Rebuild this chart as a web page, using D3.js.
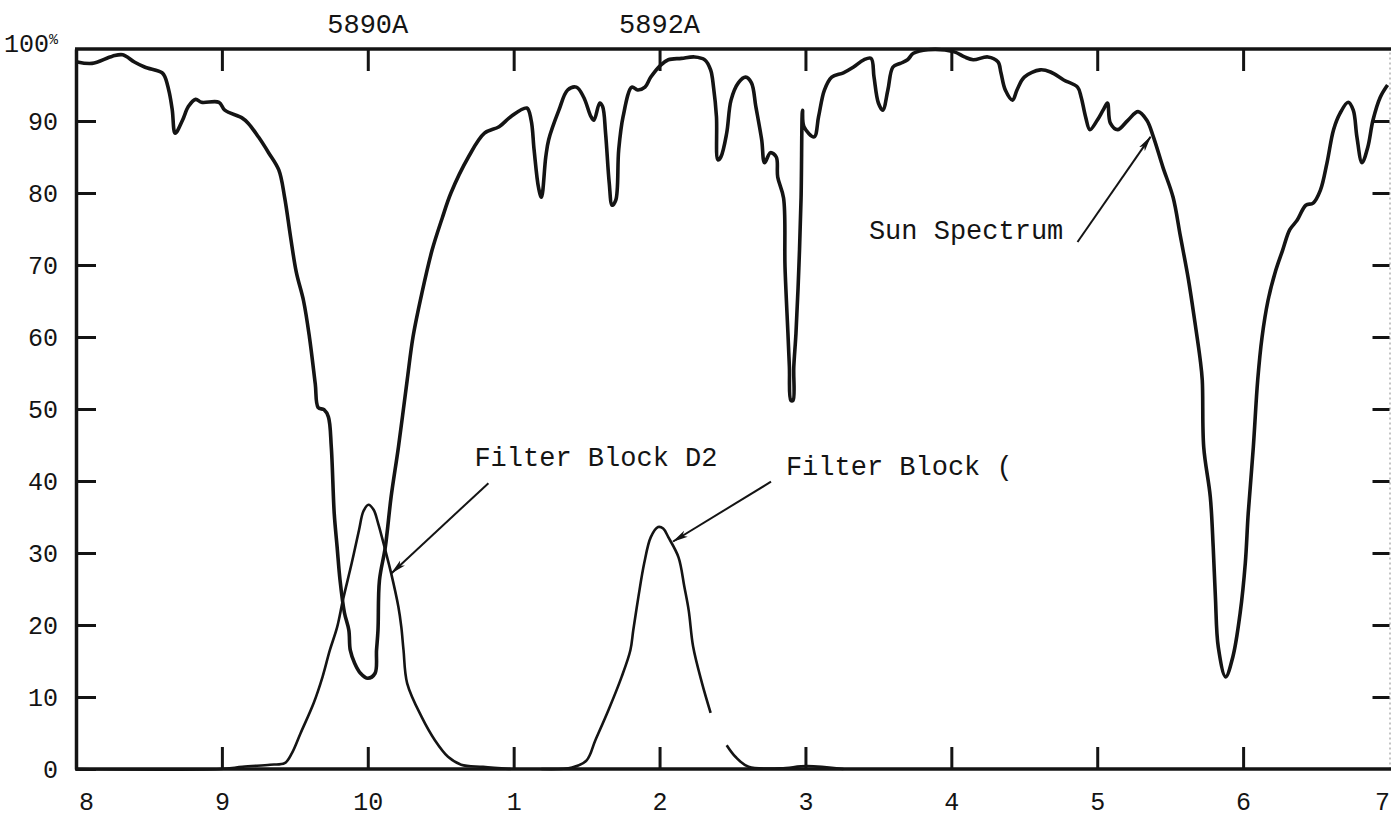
<!DOCTYPE html>
<html><head><meta charset="utf-8">
<script src="https://cdn.jsdelivr.net/npm/d3@7"></script>
<style>
html,body{margin:0;padding:0;background:#fff;}
svg{display:block;}
text{font-family:"Liberation Mono","Courier New",monospace;fill:#141414;}
</style></head><body>
<svg id="chart" width="1391" height="819"></svg>
<script>
// ---- tick values and labels ----
const xTickValues = [5888,5889,5890,5891,5892,5893,5894,5895,5896,5897];
const xTickLabels = ["8","9","10","1","2","3","4","5","6","7"];
const yTickValues = [0,10,20,30,40,50,60,70,80,90];
const yTickLabels = ["0","10","20","30","40","50","60","70","80","90"];
const topLabelWl = [5890, 5892];
const topLabels = ["5890A","5892A"];

// ---- Sun spectrum (wavelength in A, transmission %) ----
const sunWl = [5888.01,5888.11,5888.25,5888.32,5888.40,5888.47,5888.59,5888.61,5888.64,5888.66,5888.68,5888.73,5888.77,5888.82,5888.86,5888.98,
5889.02,5889.14,5889.18,5889.25,5889.32,5889.39,5889.43,5889.47,5889.51,5889.56,5889.60,5889.64,5889.66,5889.70,5889.73,5889.75,5889.77,5889.79,5889.81,5889.84,5889.87,5889.88,5889.91,5889.95,
5890.00,5890.05,5890.06,5890.07,5890.08,5890.12,5890.16,5890.21,5890.27,5890.31,5890.37,5890.44,5890.51,5890.57,5890.69,5890.80,5890.90,5890.98,
5891.09,5891.12,5891.14,5891.17,5891.19,5891.22,5891.24,5891.31,5891.37,5891.43,5891.48,5891.53,5891.55,5891.59,5891.61,5891.63,5891.655,5891.675,5891.70,5891.72,5891.75,5891.81,5891.85,5891.90,5891.94,
5892.01,5892.06,5892.15,5892.24,5892.31,5892.35,5892.37,5892.39,5892.40,5892.42,5892.46,5892.49,5892.54,5892.59,5892.63,5892.66,5892.70,5892.72,5892.76,5892.80,5892.81,5892.85,5892.86,5892.88,5892.89,5892.90,5892.915,5892.92,5892.935,5892.955,5892.97,5892.98,5892.99,
5893.06,5893.09,5893.13,5893.18,5893.26,5893.33,5893.40,5893.45,5893.47,5893.50,5893.53,5893.565,5893.60,5893.65,5893.70,5893.74,5893.84,
5894.02,5894.09,5894.15,5894.25,5894.32,5894.34,5894.37,5894.42,5894.45,5894.50,5894.61,5894.68,5894.77,5894.865,5894.89,5894.92,5894.95,
5895.00,5895.04,5895.07,5895.09,5895.14,5895.21,5895.28,5895.34,5895.385,5895.45,5895.52,5895.57,5895.625,5895.67,5895.705,5895.72,5895.73,5895.775,5895.795,5895.81,5895.83,5895.88,5895.93,5895.98,
5896.015,5896.035,5896.07,5896.10,5896.13,5896.17,5896.22,5896.27,5896.32,5896.37,5896.43,5896.48,5896.53,5896.575,5896.62,5896.665,5896.72,5896.755,5896.78,5896.815,5896.855,5896.89,5896.94,5896.99];
const sunPct = [98.2,98.0,99.0,99.2,98.2,97.5,96.7,96.1,93.9,91.5,88.3,90.1,92.0,93.0,92.6,92.6,
91.5,90.4,89.7,87.8,85.6,83.2,79.4,74,69,65,60,53.5,50.2,49.9,48.9,44.7,35.5,30.8,26.2,21.7,19.3,16.5,14.7,13.3,
12.6,13.3,16.5,19.3,26.2,30.8,37.8,44.7,54.0,60,66,72,76.5,80,85,88.3,89.2,90.6,
91.8,90.1,86,80.8,79.4,85,87.4,91.5,94.3,94.7,93.3,90.6,90.1,92.5,92.0,88.3,81.4,78.3,79.0,86,90.6,94.7,94.3,94.7,96.1,
97.8,98.5,98.7,98.9,98.5,97.1,94.7,90.6,84.6,85.0,88.3,92.9,95.3,96.1,95.3,92.0,87.4,84.2,85.6,85.0,82.2,79.3,69.7,60.5,55.8,51.2,51.2,55.8,60.5,69.7,79.3,91.5,89.2,
87.8,90.6,94.3,96.1,96.7,97.5,98.5,98.7,96.1,92.5,91.5,94.3,97.5,98.0,98.5,99.4,99.9,
99.6,98.9,98.5,98.9,98.2,96.7,94.3,92.9,94.3,96.1,97.1,96.8,95.7,94.7,93.3,90.6,88.8,
90.1,91.5,92.5,89.7,88.8,90.1,91.3,90.1,87.8,83.6,79.4,74,68,62,57,54.0,44.7,37.8,30.8,23.9,16.9,12.8,15.6,21.7,
28.6,35.5,44.7,54.0,60,65,69,72,74.9,76.2,78.3,78.6,80.4,84.2,88.8,91.1,92.6,91.5,87.8,84.2,86.4,90.1,93.3,95.0];

// ---- Filter Block D2 ----
const d2Wl = [5888.00,5888.99,5889.14,5889.33,5889.43,5889.48,5889.54,5889.63,5889.69,5889.74,5889.79,5889.83,5889.89,5889.94,5889.97,
5890.005,5890.04,5890.07,5890.115,5890.16,5890.21,5890.23,5890.245,5890.27,5890.37,5890.46,5890.55,5890.64,5890.79,5890.98];
const d2Pct = [0,0,0.3,0.6,0.8,2.2,5,9.2,12.8,16.5,19.7,23.5,28.6,33.2,35.8,
36.7,36.0,34.2,30.8,27.2,22.5,19.7,16.5,11.9,7.2,4.0,1.7,0.6,0.3,0];

// ---- Filter Block C (trace broken between 5892.35 and 5892.46) ----
const cWl = [5891.19,5891.40,5891.50,5891.56,5891.65,5891.74,5891.80,5891.82,5891.855,5891.895,5891.94,5891.99,
5892.025,5892.06,5892.13,5892.17,5892.20,5892.23,5892.29,5892.35,5892.40,5892.46,5892.52,5892.61,5892.83,5893.01,5893.26];
const cPct = [0,0.2,1.2,4,8.2,12.8,16.5,19.3,23.9,28.6,32.2,33.6,
33.4,32.2,29.4,25.3,22,17,12,7.8,null,3.3,1.7,0.3,0.1,0.4,0];

// ---- annotations (data units) ----
const annoText = ["Filter Block D2","Filter Block (","Sun Spectrum"];
const annoTextWl = [5890.731,5892.866,5893.435];
const annoTextPct = [42.1,40.8,73.6];
const arrowFromWl = [5890.827,5892.764,5894.865];
const arrowFromPct = [39.7,39.9,73.2];
const arrowToWl = [5890.163,5892.093,5895.365];
const arrowToPct = [27.2,31.6,87.8];

// ---- drawing ----
const W = 1391, H = 819;
const svg = d3.select("#chart");
const x = d3.scaleLinear().domain([5888,5897]).range([76,1389]);
const y = d3.scaleLinear().domain([0,100]).range([769,49]);
const ink = "#141414";

const zip = (a,b) => a.map((w,i)=>({w, v:b[i]}));
const line = d3.line().defined(d=>d.v!=null).x(d=>x(d.w)).y(d=>y(d.v)).curve(d3.curveCatmullRom.alpha(0.5));

const innerX = xTickValues.slice(1,-1);

// right frame (faint dotted)
const gR = svg.append("g").attr("transform",`translate(1389.5,0)`)
  .call(d3.axisRight(y).tickValues(yTickValues.slice(1)).tickSizeInner(-17).tickSizeOuter(0).tickFormat(""));
gR.select(".domain").attr("stroke","#888").attr("stroke-width",1).attr("stroke-dasharray","2,3");
gR.selectAll(".tick line").attr("stroke",ink).attr("stroke-width",3);

// top axis
const gT = svg.append("g").attr("transform",`translate(0,${y(100)})`)
  .call(d3.axisTop(x).tickValues(innerX).tickSizeInner(-22).tickSizeOuter(0).tickFormat(""));
gT.select(".domain").attr("stroke",ink).attr("stroke-width",3.5).attr("d",`M${x(5888)-1},0H${W}`);
gT.selectAll(".tick line").attr("stroke",ink).attr("stroke-width",3);

svg.append("g").selectAll("text").data(topLabels).join("text")
  .attr("x",(d,i)=>x(topLabelWl[i])).attr("y",33)
  .attr("text-anchor","middle").attr("font-size",27).text(d=>d);

// bottom axis
const gB = svg.append("g").attr("transform",`translate(0,${y(0)})`)
  .call(d3.axisBottom(x).tickValues(xTickValues).tickFormat((d,i)=>xTickLabels[i])
    .tickSizeInner(-22).tickSizeOuter(0).tickPadding(23));
gB.select(".domain").attr("stroke",ink).attr("stroke-width",3.5).attr("d",`M${x(5888)-1},0H${W}`);
gB.selectAll(".tick line").attr("stroke",ink).attr("stroke-width",3)
  .attr("display",d=> (d===5888||d===5897) ? "none" : null);
gB.selectAll(".tick text").attr("font-size",25).attr("fill",ink)
  .attr("font-family",'"Liberation Mono","Courier New",monospace')
  .attr("dx",d=> d===5888 ? 10 : (d===5897 ? -7 : 0));

// left axis
const gL = svg.append("g").attr("transform",`translate(${x(5888)},0)`)
  .call(d3.axisLeft(y).tickValues(yTickValues).tickFormat((d,i)=>yTickLabels[i])
    .tickSizeInner(-20).tickSizeOuter(0).tickPadding(18));
gL.select(".domain").attr("stroke",ink).attr("stroke-width",3.5);
gL.selectAll(".tick line").attr("stroke",ink).attr("stroke-width",3);
gL.selectAll(".tick text").attr("font-size",25).attr("fill",ink)
  .attr("font-family",'"Liberation Mono","Courier New",monospace');

const t100 = svg.append("text").attr("x",x(5888)-18).attr("y",y(100)+3)
  .attr("text-anchor","end").attr("font-size",25);
t100.append("tspan").text("100");
t100.append("tspan").attr("font-size",15).attr("dy",-8).text("%");

// curves
svg.append("path").datum(zip(d2Wl,d2Pct)).attr("d",line)
  .attr("fill","none").attr("stroke",ink).attr("stroke-width",2.6).attr("stroke-linejoin","round");
svg.append("path").datum(zip(cWl,cPct)).attr("d",line)
  .attr("fill","none").attr("stroke",ink).attr("stroke-width",2.6).attr("stroke-linejoin","round");
svg.append("path").datum(zip(sunWl,sunPct)).attr("d",line)
  .attr("fill","none").attr("stroke",ink).attr("stroke-width",3.6).attr("stroke-linejoin","round");

// arrow marker
svg.append("defs").append("marker").attr("id","arrow")
  .attr("viewBox","0 0 16 8").attr("refX",15).attr("refY",4)
  .attr("markerWidth",16).attr("markerHeight",8).attr("markerUnits","userSpaceOnUse")
  .attr("orient","auto")
  .append("path").attr("d","M0,0.5 L16,4 L0,7.5 L4,4 Z").attr("fill",ink);

svg.append("g").selectAll("line").data(annoText).join("line")
  .attr("x1",(d,i)=>x(arrowFromWl[i])).attr("y1",(d,i)=>y(arrowFromPct[i]))
  .attr("x2",(d,i)=>x(arrowToWl[i])).attr("y2",(d,i)=>y(arrowToPct[i]))
  .attr("stroke",ink).attr("stroke-width",2).attr("marker-end","url(#arrow)");

svg.append("g").selectAll("text").data(annoText).join("text")
  .attr("x",(d,i)=>x(annoTextWl[i])).attr("y",(d,i)=>y(annoTextPct[i]))
  .attr("font-size",27).text(d=>d);
</script>
</body></html>
